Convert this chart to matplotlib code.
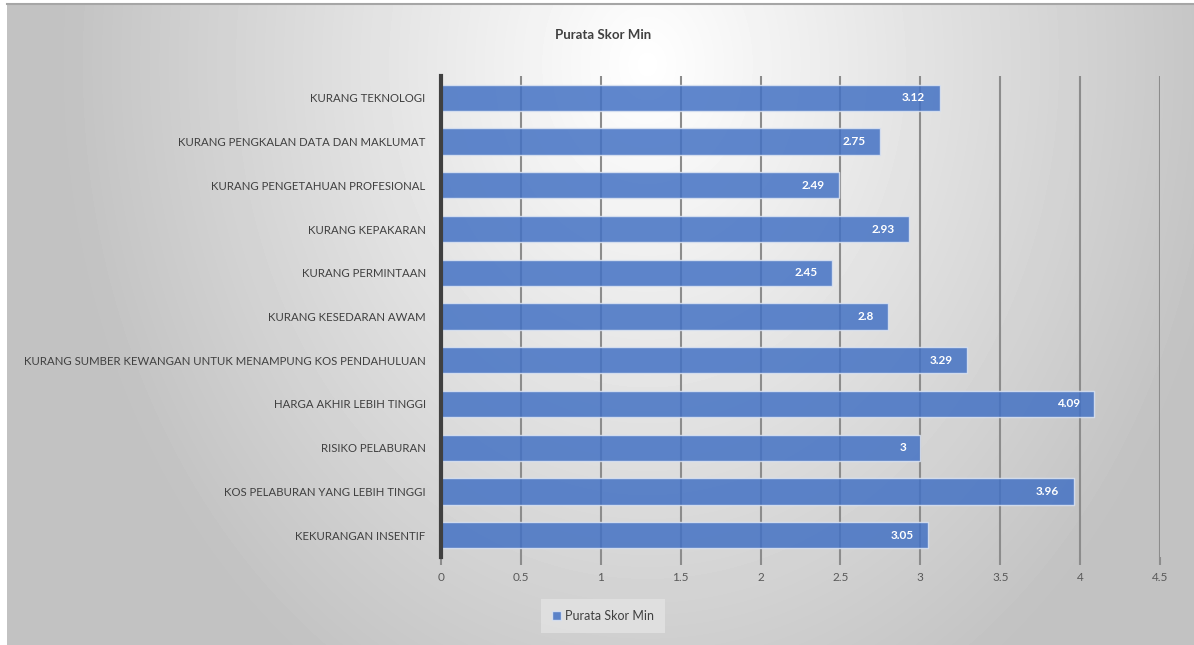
import numpy as np
import matplotlib
matplotlib.use("Agg")
import matplotlib.pyplot as plt

plt.rcParams["font.family"] = ["Lato", "DejaVu Sans"]

# ===============================================================================
#         Data
# ===============================================================================

categories = [
    "KURANG TEKNOLOGI",
    "KURANG PENGKALAN DATA DAN MAKLUMAT",
    "KURANG PENGETAHUAN PROFESIONAL",
    "KURANG KEPAKARAN",
    "KURANG PERMINTAAN",
    "KURANG KESEDARAN AWAM",
    "KURANG SUMBER KEWANGAN UNTUK MENAMPUNG KOS PENDAHULUAN",
    "HARGA AKHIR LEBIH TINGGI",
    "RISIKO PELABURAN",
    "KOS PELABURAN YANG LEBIH TINGGI",
    "KEKURANGAN INSENTIF",
]
scores = [3.12, 2.75, 2.49, 2.93, 2.45, 2.8, 3.29, 4.09, 3.0, 3.96, 3.05]
score_labels = ["3.12", "2.75", "2.49", "2.93", "2.45", "2.8", "3.29", "4.09", "3", "3.96", "3.05"]
xticks = [0, 0.5, 1, 1.5, 2, 2.5, 3, 3.5, 4, 4.5]
xtick_labels = ["0", "0.5", "1", "1.5", "2", "2.5", "3", "3.5", "4", "4.5"]
series_name = "Purata Skor Min"

W, H = 1194, 645
fig = plt.figure(figsize=(W / 100, H / 100), dpi=100)
fig.patch.set_facecolor("white")

# radial grey background of the chart frame
bg = fig.add_axes([7 / W, 0, 1 - 7 / W, 1 - 4 / H], zorder=0)
yy, xx = np.mgrid[0:641, 0:1187]
cx, cy = 640, 60
r = np.hypot((xx - cx) / 560.0, (yy - cy) / 700.0)
r = np.clip(r / 1.05, 0, 1)
shade = 1.0 - 0.24 * r
bg.imshow(shade, cmap="gray", vmin=0, vmax=1, aspect="auto", interpolation="bilinear")
bg.set_xticks([])
bg.set_yticks([])
for s in bg.spines.values():
    s.set_visible(False)
bg.spines["top"].set_visible(True)
bg.spines["top"].set_color("#a6a6a6")
bg.spines["top"].set_linewidth(1.5)

ax = fig.add_axes([441 / W, 1 - 557 / H, (1160 - 441) / W, 481 / H], zorder=1)
ax.patch.set_alpha(0)

y = np.arange(len(categories))
ax.barh(y, scores, height=0.6, color="#4472C4", alpha=0.85,
        edgecolor="#dce4f2", linewidth=1.0, zorder=3)

for yi, v, lab in zip(y, scores, score_labels):
    ax.text(v - 0.09, yi, lab, ha="right", va="center", color="white",
            fontsize=8.5, fontweight="bold", zorder=4)

ax.set_ylim(len(categories) - 0.5, -0.5)
ax.set_xlim(0, 4.5)
ax.set_yticks(y)
ax.set_yticklabels(categories, fontsize=8.2, color="#404040")
ax.set_xticks(xticks)
ax.set_xticklabels(xtick_labels, fontsize=8.5, color="#595959")
ax.tick_params(axis="y", length=0, pad=11)
ax.tick_params(axis="x", length=6, width=1.5, color="#8c8c8c", pad=5)
ax.grid(axis="x", color="#8c8c8c", linewidth=1.5, zorder=1)
ax.set_axisbelow(True)

for s in ["top", "right", "bottom"]:
    ax.spines[s].set_visible(False)
ax.spines["left"].set_color("#404040")
ax.spines["left"].set_linewidth(3)
ax.spines["left"].set_zorder(5)

fig.text(603 / W, 1 - 35 / H, series_name, ha="center", va="center",
         fontsize=9.5, fontweight="bold", color="#404040")

handle = plt.Rectangle((0, 0), 1, 1, facecolor="#4472C4", alpha=0.85, edgecolor="#dce4f2")
leg = fig.legend(handles=[handle], labels=[series_name], loc="center",
                 bbox_to_anchor=(603 / W, 1 - 616 / H),
                 fontsize=9, frameon=True, fancybox=False, handlelength=0.7,
                 handleheight=0.7, handletextpad=0.3, borderpad=0.9)
leg.get_frame().set_facecolor("#e3e3e3")
leg.get_frame().set_edgecolor("none")
for t in leg.get_texts():
    t.set_color("#404040")

fig.savefig("out.png", dpi=100)
